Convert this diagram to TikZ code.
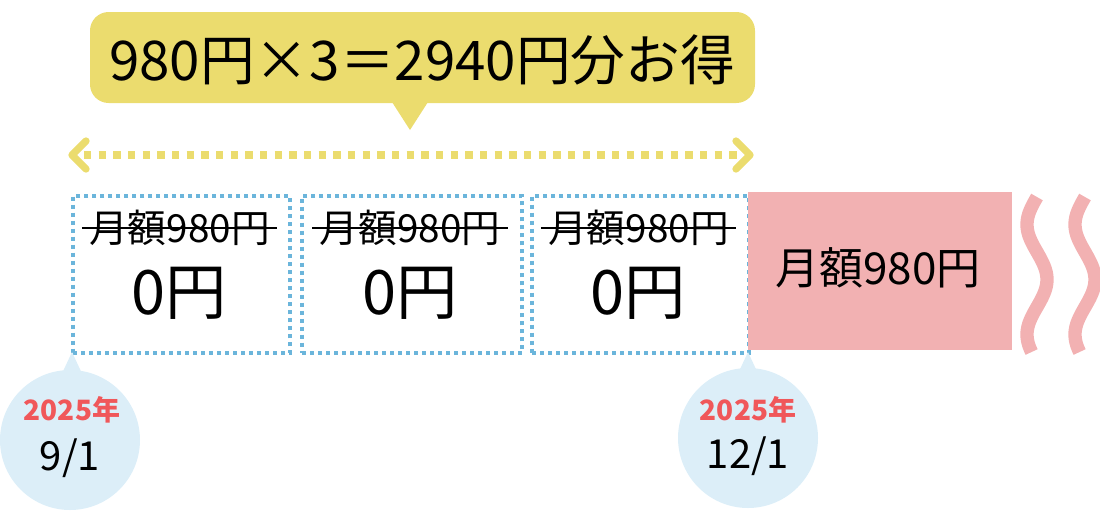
\documentclass[tikz,border=0pt]{standalone}
\usepackage{fontspec}
\setmainfont{Noto Sans CJK JP}
\usetikzlibrary{arrows.meta}
\definecolor{yel}{HTML}{EBDC6E}
\definecolor{blu}{HTML}{6BB5DB}
\definecolor{pnk}{HTML}{F2B1B2}
\definecolor{lblu}{HTML}{DCEEF8}
\definecolor{rd}{HTML}{F0575A}
\tikzset{
 fbox/.style={draw=blu,line width=3pt,dash pattern=on 3pt off 3pt,minimum height=118pt,anchor=north west,inner sep=0pt},
 strk/.style={font=\fontsize{29}{32}\selectfont},
 zero/.style={font=\fontsize{46}{50}\selectfont},
 yr/.style={text=rd,font=\fontsize{21}{24}\selectfont\bfseries},
 dt/.style={font=\fontsize{30}{34}\selectfont},
}
\begin{document}
\begin{tikzpicture}[x=0.75pt,y=-0.75pt]
\useasboundingbox (0,0) rectangle (1100,519);
% callout
\fill[yel,rounded corners=14pt] (90,12) rectangle (755,103);
\fill[yel] (392,102) -- (410,130) -- (428,102) -- cycle;
\node (title) at (422,60) {\fontsize{41}{46}\selectfont 980円×3＝2940円分お得};
% arrow
\coordinate (al) at (72,155); \coordinate (ar) at (750,155);
\draw[yel,line width=5.5pt,dash pattern=on 5.5pt off 5.5pt] ([xshift=9pt]al) -- ([xshift=-9pt]ar);
\draw[yel,line width=5.5pt,line cap=round,line join=round] (86,141) -- (72,155) -- (86,169);
\draw[yel,line width=5.5pt,line cap=round,line join=round] (736,141) -- (750,155) -- (736,169);
% boxes
\foreach \n/\x/\w in {1/71/217,2/300/220,3/530/217}{
 \node[fbox,minimum width=\w*0.75pt] (b\n) at (\x,194) {};
 \node[strk] (s\n) at (\x+\w/2,228) {月額980円};
 \draw[line width=1.6pt] ([xshift=-2pt]s\n.west) -- ([xshift=2pt]s\n.east);
 \node[zero] (z\n) at (\x+\w/2,293) {0円};
}
% pink
\fill[pnk] (748,192) rectangle (1012,350);
\node (pk) at (878,268) {\fontsize{33}{36}\selectfont 月額980円};
\foreach \c in {1037,1085}{
 \draw[pnk,line width=10pt] plot[domain=0:155,samples=80,smooth] ({\c-10*sin(3.2727*\x)},{197+\x});
}
% dates
\fill[lblu] (52,395) -- (72,352) -- (92,395) -- cycle;
\fill[lblu] (70,440) circle[radius=70];
\node[yr] (y1) at (72,410) {2025年};
\node[dt] (d1) at (70,458) {9/1};
\fill[lblu] (728,395) -- (748,352) -- (768,395) -- cycle;
\fill[lblu] (748,438) circle[radius=70];
\node[yr] (y2) at (748,410) {2025年};
\node[dt] (d2) at (748,456) {12/1};
\end{tikzpicture}
\end{document}
